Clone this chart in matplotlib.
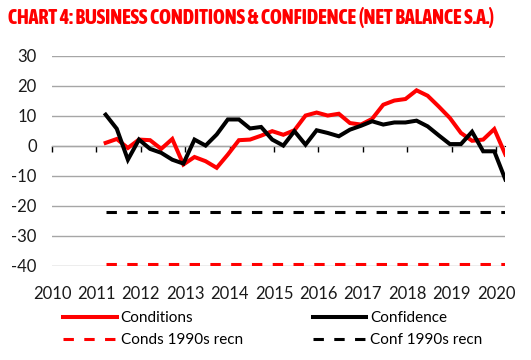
import numpy as np
import pandas as pd
import matplotlib
matplotlib.use('Agg')
import matplotlib.pyplot as plt
from matplotlib import font_manager

# quarterly observations, 2011Q1 .. 2020Q1
quarters = pd.period_range('2011Q1', '2020Q1', freq='Q')

conditions = [0.9, 2.2, -0.8, 2.0, 1.8, -1.1, 2.2, -6.3, -3.8, -5.2,
              -7.4, -3.0, 1.8, 2.0, 3.3, 4.8, 3.6, 5.1, 10.0, 11.0,
              10.0, 10.6, 7.5, 7.0, 8.9, 13.6, 15.0, 15.5, 18.4, 16.6,
              13.0, 9.2, 4.2, 1.6, 2.0, 5.5, -3.0]
confidence = [10.3, 5.6, -4.7, 2.0, -1.1, -2.4, -4.7, -6.0, 2.0, 0.0,
              3.7, 8.7, 8.7, 5.7, 6.2, 2.0, 0.0, 4.8, 0.3, 5.1,
              4.2, 3.1, 5.3, 6.6, 8.1, 7.0, 7.7, 7.7, 8.3, 6.4,
              3.4, 0.5, 0.5, 4.6, -1.9, -1.9, -11.3]
conds_1990s_recn = -39.3
conf_1990s_recn = -22.2

year_ticks = list(range(2010, 2021))
y_ticks = [-40, -30, -20, -10, 0, 10, 20, 30]

title = 'CHART 4: BUSINESS CONDITIONS & CONFIDENCE (NET BALANCE S.A.)'

# decimal-year position of each quarter (middle of the quarter's last month)
x = np.array([q.year + (q.quarter * 3 - 0.5) / 12 for q in quarters])

RED = '#FF0000'
GRID = '#A6A6A6'

fonts = font_manager.fontManager.ttflist
names = {f.name for f in fonts}
body_font = 'Lato' if 'Lato' in names else 'DejaVu Sans'


def _w(f):
    w = f.weight
    if isinstance(w, str):
        w = font_manager.weight_dict.get(w, 400)
    return w


# title wants a bold condensed face; pick the boldest narrow file around
narrow = [f for f in fonts
          if 'Condensed' in f.name or 'Narrow' in f.name
          or f.stretch in ('condensed', 'semi-condensed', 'extra-condensed')]
narrow = [f for f in narrow if 'Italic' not in f.fname and 'Oblique' not in f.fname]
if narrow:
    best = max(narrow, key=lambda f: (_w(f) >= 700, _w(f) <= 800, _w(f)))
    title_prop = font_manager.FontProperties(fname=best.fname)
else:
    title_prop = font_manager.FontProperties(family='DejaVu Sans', weight='bold')

plt.rcParams['font.family'] = [body_font, 'DejaVu Sans']

fig = plt.figure(figsize=(5.31, 3.6), dpi=100)
ax = fig.add_axes([52 / 531, 1 - 265.7 / 360, (505 - 52) / 531, (265.7 - 55.5) / 360])

ax.plot(x, conditions, color=RED, lw=2.9, solid_joinstyle='miter', label='Conditions', zorder=4)
ax.plot(x, confidence, color='black', lw=2.9, solid_joinstyle='miter', label='Confidence', zorder=5)
ax.plot(x, [conds_1990s_recn] * len(x), color=RED, lw=2.2, dashes=(3.4, 3.4),
        dash_capstyle='butt', label='Conds 1990s recn', zorder=3)
ax.plot(x, [conf_1990s_recn] * len(x), color='black', lw=2.2, dashes=(3.4, 3.4),
        dash_capstyle='butt', label='Conf 1990s recn', zorder=3)

ax.set_xlim(2010, 2020.2)
ax.set_ylim(-40, 30)
ax.set_yticks(y_ticks)
ax.set_yticklabels([str(v) for v in y_ticks])
ax.set_xticks(year_ticks)
ax.set_xticklabels([str(v) for v in year_ticks])
ax.tick_params(axis='x', length=0, labelsize=12, pad=14.5)
ax.tick_params(axis='y', length=0, labelsize=12, pad=11)
for lab in ax.get_yticklabels() + ax.get_xticklabels():
    lab.set_color('#1a1a1a')

ax.grid(axis='y', color=GRID, lw=1.0)
ax.set_axisbelow(True)
for s in ax.spines.values():
    s.set_visible(False)

# horizontal axis line crossing at zero, tick marks pointing up
zero_frac = (0 - (-40)) / 70
sec = ax.secondary_xaxis(zero_frac)
sec.set_xticks(year_ticks)
sec.tick_params(axis='x', direction='in', length=4.5, width=1.0, color='black',
                labelbottom=False, labeltop=False)
sec.spines['bottom'].set_color('black')
sec.spines['bottom'].set_linewidth(1.0)

title_prop.set_size(16)
t = fig.text(8 / 531, 1 - 18 / 360, title, color=RED, va='center', ha='left',
             fontproperties=title_prop)
# shrink the title until it fits the width used in the original
fig.canvas.draw()
w = t.get_window_extent().width
if w > 484:
    t.set_fontsize(16 * 484 / w)

h, l = ax.get_legend_handles_labels()
order = [0, 2, 1, 3]
fig.legend([h[i] for i in order], [l[i] for i in order], ncol=2, frameon=False,
           loc='upper left', bbox_to_anchor=(51 / 531, 1 - 299 / 360),
           fontsize=11, handlelength=3.5, handletextpad=0.25, columnspacing=4.6,
           labelspacing=0.5, borderpad=0.3)

fig.savefig('out.png', dpi=100)
